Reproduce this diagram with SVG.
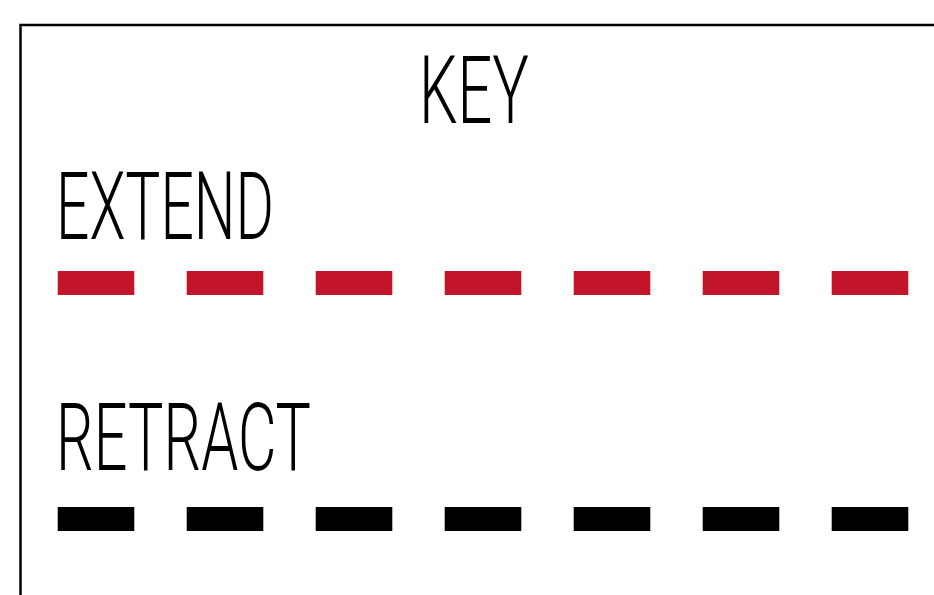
<svg xmlns="http://www.w3.org/2000/svg" width="934" height="595" viewBox="0 0 934 595">
<style>
.lbl{font-family:Roboto,"Liberation Sans",sans-serif;font-weight:300;font-size:95px;fill:#000}
.red{fill:#C3152A}
.blk{fill:#000}
</style>
<rect width="934" height="595" fill="#fff"/>
<g id="frame"><path d="M20.5,600 V25 H940" fill="none" stroke="#000" stroke-width="2.5"/></g>
<g id="title"><text class="lbl" x="419" y="122.5" textLength="110" lengthAdjust="spacingAndGlyphs">KEY</text></g>
<g id="extend">
<text class="lbl" x="56" y="238.5" textLength="218" lengthAdjust="spacingAndGlyphs">EXTEND</text>
<g class="red">
<rect x="57.7" y="271" width="76.6" height="24"/>
<rect x="186.7" y="271" width="76.6" height="24"/>
<rect x="315.7" y="271" width="76.6" height="24"/>
<rect x="444.7" y="271" width="76.6" height="24"/>
<rect x="573.7" y="271" width="76.6" height="24"/>
<rect x="702.7" y="271" width="76.6" height="24"/>
<rect x="831.7" y="271" width="76.6" height="24"/>
</g>
</g>
<g id="retract">
<text class="lbl" x="56" y="469.5" textLength="255" lengthAdjust="spacingAndGlyphs">RETRACT</text>
<g class="blk">
<rect x="57.7" y="507" width="76.6" height="24"/>
<rect x="186.7" y="507" width="76.6" height="24"/>
<rect x="315.7" y="507" width="76.6" height="24"/>
<rect x="444.7" y="507" width="76.6" height="24"/>
<rect x="573.7" y="507" width="76.6" height="24"/>
<rect x="702.7" y="507" width="76.6" height="24"/>
<rect x="831.7" y="507" width="76.6" height="24"/>
</g>
</g>
<g id="connectors"/>
</svg>
